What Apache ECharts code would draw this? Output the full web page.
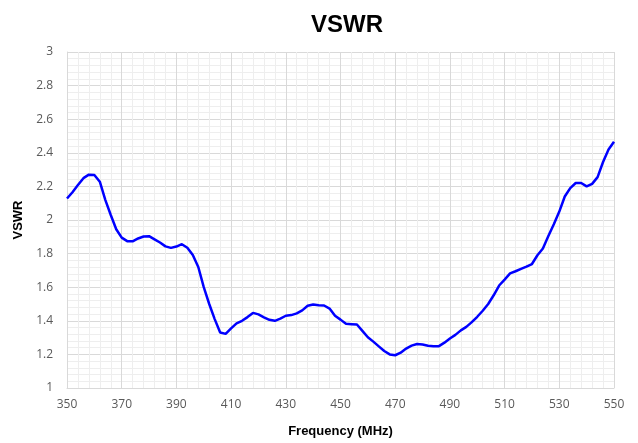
<!DOCTYPE html>
<html>
<head>
<meta charset="utf-8">
<script src="https://cdn.jsdelivr.net/npm/echarts@6/dist/echarts.min.js"></script>
<style>html,body{margin:0;padding:0;background:#fff}#c{width:638px;height:443px}</style>
</head>
<body>
<div id="c"></div>
<script>
var freqStart = 350, freqStep = 2;
var vswr = [
2.128,2.165,2.208,2.249,2.270,2.268,2.228,2.12,2.03,1.945,
1.895,1.874,1.873,1.890,1.902,1.904,1.885,1.866,1.843,1.834,
1.842,1.856,1.835,1.792,1.72,1.60,1.50,1.41,1.33,1.322,
1.355,1.385,1.40,1.422,1.447,1.438,1.421,1.406,1.40,1.413,
1.43,1.434,1.444,1.462,1.49,1.497,1.492,1.491,1.473,1.43,
1.407,1.382,1.380,1.378,1.34,1.302,1.276,1.248,1.22,1.200,
1.195,1.21,1.235,1.252,1.262,1.259,1.252,1.248,1.249,1.27,
1.295,1.316,1.343,1.364,1.392,1.424,1.46,1.50,1.552,1.61,
1.645,1.682,1.695,1.709,1.722,1.738,1.79,1.83,1.905,1.975,
2.05,2.14,2.19,2.22,2.22,2.20,2.215,2.255,2.345,2.42,
2.466
];
var xTicks = [350,370,390,410,430,450,470,490,510,530,550];
var yTicks = [1,1.2,1.4,1.6,1.8,2,2.2,2.4,2.6,2.8,3];

var data = vswr.map(function(v,i){ return [freqStart + i*freqStep, v]; });
var chart = echarts.init(document.getElementById('c'));
var labelFont = {color:'#595959', fontSize:12, fontFamily:'Open Sans'};
chart.setOption({
  animation:false,
  title:{text:'VSWR', left:342, top:8, textAlign:'center',
    textStyle:{fontSize:24, fontWeight:'bold', color:'#000', fontFamily:'Liberation Sans'}},
  grid:{left:67, right:24, top:52, bottom:50},
  xAxis:{type:'value', min:xTicks[0], max:xTicks[xTicks.length-1], interval:20,
    name:'Frequency (MHz)', nameLocation:'middle', nameGap:37,
    nameTextStyle:{fontSize:13, fontWeight:'bold', color:'#000', fontFamily:'Liberation Sans'},
    axisLine:{show:true, lineStyle:{color:'#d9d9d9'}}, axisTick:{show:false},
    axisLabel:Object.assign({margin:11}, labelFont),
    splitLine:{show:true, lineStyle:{color:'#d9d9d9', width:1}},
    minorTick:{show:false, splitNumber:5},
    minorSplitLine:{show:true, lineStyle:{color:'#eeeeee', width:1}}},
  yAxis:{type:'value', min:yTicks[0], max:yTicks[yTicks.length-1], interval:0.2,
    name:'VSWR', nameLocation:'middle', nameGap:37, nameRotate:90,
    nameTextStyle:{fontSize:13, fontWeight:'bold', color:'#000', fontFamily:'Liberation Sans'},
    axisLine:{show:true, lineStyle:{color:'#d9d9d9'}}, axisTick:{show:false},
    axisLabel:Object.assign({margin:14}, labelFont),
    splitLine:{show:true, lineStyle:{color:'#d9d9d9', width:1}},
    minorTick:{show:false, splitNumber:5},
    minorSplitLine:{show:true, lineStyle:{color:'#eeeeee', width:1}}},
  series:[{type:'line', data:data, showSymbol:false, smooth:false,
    lineStyle:{color:'#0000ff', width:2.5}, itemStyle:{color:'#0000ff'}}]
});
</script>
</body>
</html>
